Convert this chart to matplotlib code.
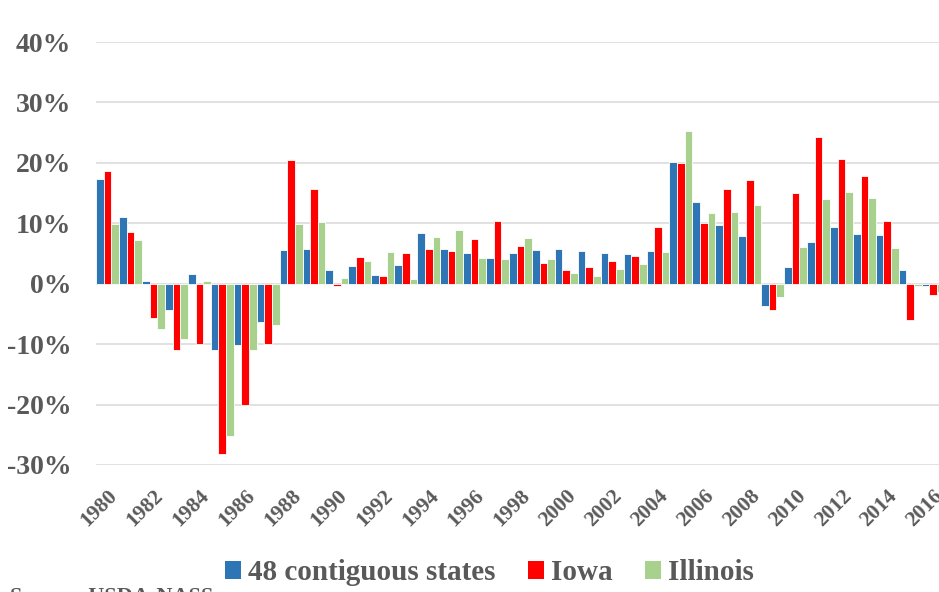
#Grafica de barras agrupadas: cambio anual (%) para 48 estados, Iowa e Illinois
import matplotlib
matplotlib.use("Agg")
import matplotlib.pyplot as plt
from matplotlib.patches import Patch
import numpy as np

#Datos
years = list(range(1980, 2017))
states_48 = [17.4, 11.1, 0.5, -4.3, 1.6, -11.0, -10.2, -6.4, 5.5, 5.7,
             2.2, 2.9, 1.4, 3.1, 8.4, 5.7, 5.1, 4.3, 5.1, 5.6,
             5.8, 5.4, 5.1, 4.9, 5.4, 20.1, 13.6, 9.7, 7.9, -3.7,
             2.8, 6.9, 9.4, 8.3, 8.0, 2.3, -0.4]
iowa = [18.7, 8.6, -5.6, -10.9, -9.9, -28.1, -20.0, -10.0, 20.4, 15.6,
        -0.4, 4.5, 1.2, 5.1, 5.7, 5.4, 7.4, 10.3, 6.2, 3.4,
        2.2, 2.7, 3.7, 4.6, 9.4, 19.9, 10.1, 15.7, 17.1, -4.4,
        15.0, 24.3, 20.7, 17.8, 10.3, -6.0, -1.9]
illinois = [9.9, 7.2, -7.5, -9.2, 0.4, -25.2, -10.9, -6.8, 9.8, 10.2,
            0.9, 3.8, 5.2, 0.7, 7.8, 8.9, 4.3, 4.1, 7.5, 4.1,
            1.7, 1.3, 2.5, 3.3, 5.3, 25.3, 11.7, 11.9, 13.1, -2.2,
            6.0, 14.1, 15.2, 14.2, 5.9, -0.3, -1.4]
series_names = ["48 contiguous states", "Iowa", "Illinois"]
y_ticks = [-30, -20, -10, 0, 10, 20, 30, 40]
y_tick_labels = ["-30%", "-20%", "-10%", "0%", "10%", "20%", "30%", "40%"]

colores = ["#2E75B6", "#FF0000", "#A9D18E"]
gris = "#595959"
fuente = "Liberation Serif"

fig = plt.figure(figsize=(9.39, 5.92), dpi=100)
#La grafica se sale un poco por la derecha, igual que la original
ax = fig.add_axes([96.2 / 939, 1 - 465 / 592, 848.4 / 939, 423 / 592])

x = np.arange(len(years))
w = 1 / 3
for k, (vals, nombre) in enumerate(zip([states_48, iowa, illinois], series_names)):
    ax.bar(x + (k - 1) * w, vals, width=w, color=colores[k],
           edgecolor="white", linewidth=0.6, zorder=3, label=nombre)

ax.set_xlim(-0.5, len(years) - 0.5)
ax.set_ylim(-30, 40)
ax.set_yticks(y_ticks)
ax.set_yticklabels(y_tick_labels, fontfamily=fuente, fontweight="bold",
                   fontsize=20, color=gris)
ax.set_xticks(x[::2])
ax.set_xticklabels([str(a) for a in years[::2]], rotation=45, ha="right",
                   va="top", rotation_mode="anchor", fontfamily=fuente,
                   fontweight="bold", fontsize=15.5, color=gris)
ax.tick_params(axis="both", length=0)
ax.tick_params(axis="y", pad=18)
ax.tick_params(axis="x", pad=15)

ax.grid(axis="y", color="#D9D9D9", linewidth=1.1, zorder=0)
for s in ax.spines.values():
    s.set_visible(False)

#Leyenda abajo con cuadritos
handles = [Patch(facecolor=c, edgecolor="none") for c in colores]
fig.legend(handles, series_names, loc="center", bbox_to_anchor=(489.5 / 939, 1 - 573 / 592),
           ncol=3, frameon=False, handlelength=0.55, handleheight=0.55,
           handletextpad=0.25, columnspacing=1.1,
           prop={"family": fuente, "weight": "bold", "size": 21}, labelcolor=gris)

#Fuente, cortada en el borde inferior como en la original
fig.text(10 / 939, 1 - 587 / 592, "Source: USDA-NASS", ha="left", va="top",
         fontfamily=fuente, fontweight="bold", fontsize=16, color=gris)

plt.savefig("out.png", dpi=100)
plt.close()
